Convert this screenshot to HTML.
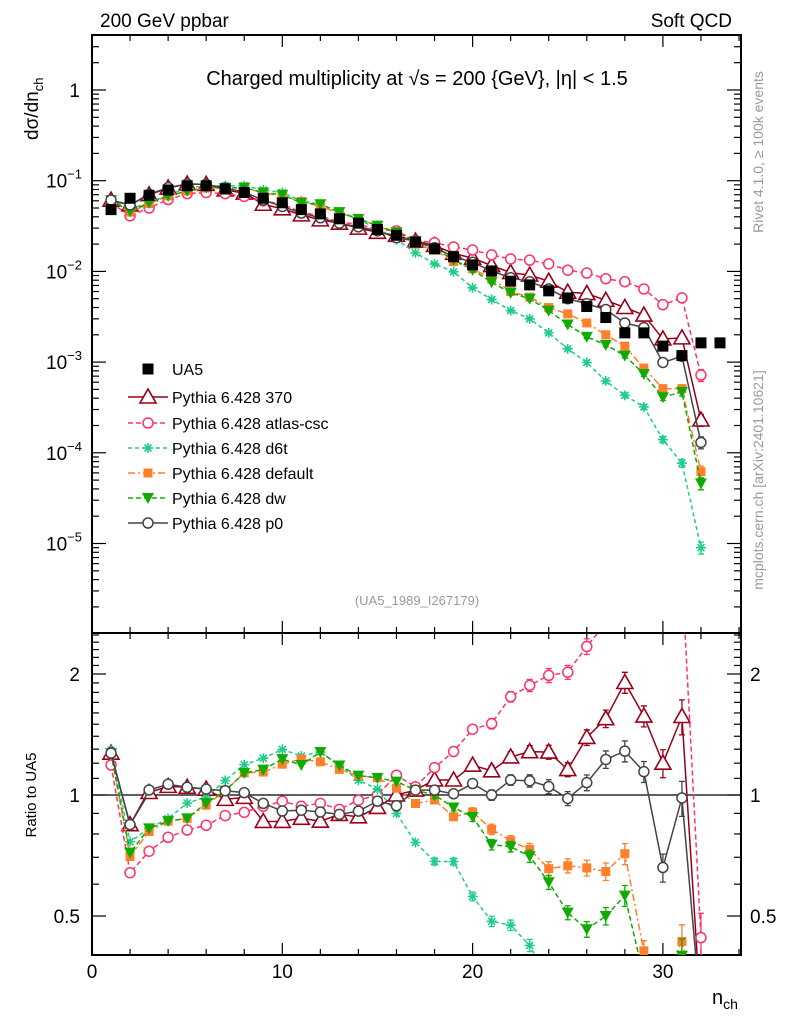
<!DOCTYPE html>
<html><head><meta charset="utf-8"><style>
html,body{margin:0;padding:0;background:#fff;overflow:hidden;width:786px;height:1024px;}
svg{display:block;font-family:"Liberation Sans",sans-serif;}
</style></head><body>
<svg id="chart" width="786" height="1024" viewBox="0 0 786 1024" xmlns="http://www.w3.org/2000/svg">
<defs>
<clipPath id="clipMain"><rect x="92" y="35" width="649" height="598"/></clipPath>
<clipPath id="clipRatio"><rect x="92" y="633" width="649" height="322"/></clipPath>
</defs>
<text x="100" y="27" font-size="19">200 GeV ppbar</text>
<text x="732" y="27" font-size="19" text-anchor="end">Soft QCD</text>
<text x="417" y="85" font-size="20" text-anchor="middle">Charged multiplicity at √s = 200 {GeV}, |η| &lt; 1.5</text>
<text x="417" y="605" font-size="13" fill="#999" text-anchor="middle">(UA5_1989_I267179)</text>
<text transform="translate(763,152) rotate(-90)" font-size="14" fill="#999" text-anchor="middle">Rivet 4.1.0, ≥ 100k events</text>
<text transform="translate(763,480) rotate(-90)" font-size="14" fill="#999" text-anchor="middle">mcplots.cern.ch [arXiv:2401.10621]</text>
<text transform="translate(38,140) rotate(-90)" font-size="19">dσ/dn<tspan font-size="13" dy="5">ch</tspan></text>
<text transform="translate(36,795) rotate(-90)" font-size="15" text-anchor="middle">Ratio to UA5</text>
<text x="712" y="1004" font-size="20">n<tspan font-size="14" dy="5">ch</tspan></text>
<g id="axes"></g>
<g id="series-main" clip-path="url(#clipMain)"></g>
<g id="series-ratio" clip-path="url(#clipRatio)"></g>
<g id="legend"></g>
</svg>
<script>
const nData = [1,2,3,4,5,6,7,8,9,10,11,12,13,14,15,16,17,18,19,20,21,22,23,24,25,26,27,28,29,30,31,32,33];
const ua5 = [0.048,0.064,0.069,0.079,0.088,0.088,0.081,0.074,0.064,0.057,0.048,0.043,0.038,0.034,0.029,0.025,0.021,0.0177,0.0145,0.0118,0.0101,0.0078,0.0071,0.0061,0.0051,0.0041,0.0031,0.0021,0.0021,0.0015,0.00118,0.00163,0.00163];
const nMC = [1,2,3,4,5,6,7,8,9,10,11,12,13,14,15,16,17,18,19,20,21,22,23,24,25,26,27,28,29,30,31,32];
const p370 = [0.061,0.054,0.070,0.083,0.092,0.091,0.079,0.073,0.055,0.049,0.042,0.037,0.034,0.030,0.027,0.025,0.0216,0.0193,0.0158,0.0140,0.0116,0.0097,0.0091,0.0078,0.0059,0.0057,0.0048,0.0040,0.0033,0.0018,0.00185,0.00023];
const pAtlas = [0.057,0.041,0.050,0.062,0.072,0.074,0.072,0.067,0.060,0.055,0.045,0.041,0.035,0.033,0.029,0.028,0.022,0.0207,0.0186,0.0172,0.0152,0.0137,0.0133,0.0121,0.0103,0.0096,0.0083,0.0077,0.0064,0.0043,0.0051,0.00072];
const pD6t = [0.062,0.049,0.057,0.069,0.084,0.087,0.088,0.088,0.079,0.074,0.060,0.055,0.045,0.037,0.030,0.0225,0.016,0.0121,0.0099,0.0066,0.0049,0.0037,0.0030,0.0021,0.0014,0.00099,0.00062,0.00043,0.00032,0.00014,0.000077,0.000009];
const pDefault = [0.061,0.045,0.056,0.068,0.077,0.083,0.083,0.084,0.073,0.068,0.059,0.052,0.044,0.038,0.032,0.026,0.020,0.0172,0.0128,0.0107,0.0083,0.0060,0.0052,0.0040,0.0034,0.0027,0.0020,0.0015,0.00086,0.00051,0.00051,0.000062];
const pDw = [0.061,0.046,0.057,0.068,0.077,0.084,0.083,0.084,0.074,0.070,0.057,0.055,0.045,0.038,0.032,0.027,0.0216,0.0177,0.0135,0.0104,0.0076,0.0058,0.0050,0.0037,0.0026,0.0019,0.00155,0.00118,0.00074,0.00041,0.00047,0.000046];
const pP0 = [0.061,0.054,0.071,0.084,0.092,0.091,0.083,0.075,0.061,0.052,0.044,0.039,0.034,0.031,0.028,0.0235,0.0216,0.0182,0.0146,0.0126,0.0101,0.0085,0.0077,0.0064,0.0050,0.0044,0.0038,0.0027,0.0024,0.00099,0.00116,0.00013];
const errRel = [0.01,0.01,0.01,0.01,0.01,0.01,0.01,0.01,0.01,0.01,0.01,0.01,0.01,0.01,0.01,0.012,0.015,0.02,0.02,0.025,0.03,0.03,0.035,0.04,0.04,0.045,0.05,0.06,0.06,0.08,0.1,0.15];
const xTicks = [0,10,20,30];
const ratioTicks = [0.5,1,2];
const ratioTickLabels = ["0.5","1","2"];
const mainDecades = [0,-1,-2,-3,-4,-5];

const SVGNS = "http://www.w3.org/2000/svg";
const X0=92, X1=741, MT=35, MB=633, RT=633, RB=955;
function clamp(v,a,b){ return Math.max(a,Math.min(b,v)); }
function xs(n){ return X0 + n*19.03; }
function ym(v){ return clamp(90 - 90.7*Math.log10(v), MT-50, MB+50); }
function yr(r){ return clamp(795 - 402*Math.log10(r), RT-60, RB+60); }
function mk(tag, attrs, parent){ const e=document.createElementNS(SVGNS,tag); for(const k in attrs) e.setAttribute(k,attrs[k]); parent.appendChild(e); return e; }

const axes=document.getElementById('axes');
let f1=mk('rect',{x:X0,y:MT,width:X1-X0,height:MB-MT,fill:'none',stroke:'#000','stroke-width':2},axes);


let f2=mk('rect',{x:X0,y:RT,width:X1-X0,height:RB-RT,fill:'none',stroke:'#000','stroke-width':2},axes);


let one=mk('line',{x1:X0,x2:X1,y1:yr(1),y2:yr(1),stroke:'#000','stroke-width':1.2},axes);


for(let v=0; v<=34; v+=2){
  const major = v%10===0; const L = major?12:6; const x=xs(v);
  for(const [yt,dir] of [[MT,1],[MB,-1],[RT,1],[RB,-1]]){
    const t=mk('line',{x1:x,x2:x,y1:yt,y2:yt+dir*L,stroke:'#000','stroke-width':1.2},axes);
    
    
  }
}
xTicks.forEach(v=>{
  const t=mk('text',{x:xs(v),y:978,'font-size':19,'text-anchor':'middle'},axes);
  t.textContent=String(v);
  
  
});
for(let d=-6; d<=0; d++){
  for(let m=1;m<=9;m++){
    const v=m*Math.pow(10,d); const y=90 - 90.7*Math.log10(v);
    if(y<MT||y>MB) continue;
    const L = m===1?14:7;
    for(const [xt,dir] of [[X0,1],[X1,-1]]){
      const t=mk('line',{x1:xt,x2:xt+dir*L,y1:y,y2:y,stroke:'#000','stroke-width':1.2},axes);
      
      
    }
  }
}
mainDecades.forEach(d=>{
  const y=ym(Math.pow(10,d));
  const t=mk('text',{x:80,y:y+7,'font-size':19,'text-anchor':'end'},axes);
  
  
  if(d===0){ t.textContent='1'; }
  else {
    const a=mk('tspan',{},t); a.textContent='10';
    const b=mk('tspan',{'font-size':13,dy:-9},t); b.textContent='−'+(-d);
    t.setAttribute('x',82);
  }
});
const rmin=[0.4,0.6,0.7,0.8,0.9,1.1,1.2,1.3,1.4,1.5,1.6,1.7,1.8,1.9,2.1,2.2,2.3,2.4,2.5];
rmin.concat(ratioTicks).forEach(r=>{
  const y=795 - 402*Math.log10(r); if(y<RT||y>RB) return;
  const L = ratioTicks.includes(r)?14:7;
  for(const [xt,dir] of [[X0,1],[X1,-1]]){
    const t=mk('line',{x1:xt,x2:xt+dir*L,y1:y,y2:y,stroke:'#000','stroke-width':1.2},axes);
    
    
  }
});
ratioTicks.forEach((r,i)=>{
  const y=yr(r);
  const a=mk('text',{x:80,y:y+7,'font-size':19,'text-anchor':'end'},axes);
  a.textContent=ratioTickLabels[i];
  
  
  const b=mk('text',{x:750,y:y+7,'font-size':19},axes);
  b.textContent=ratioTickLabels[i];
  
  
});

function marker(g, style, x, y){
  const c=style.color; let e;
  if(style.m==='sq'){ e=mk('rect',{x:x-5.5,y:y-5.5,width:11,height:11,fill:c},g); }
  else if(style.m==='sqs'){ e=mk('rect',{x:x-4.5,y:y-4.5,width:9,height:9,fill:c},g); }
  else if(style.m==='tri'){ e=mk('polygon',{points:`${x},${y-8} ${x-8},${y+6} ${x+8},${y+6}`,fill:'#fff',stroke:c,'stroke-width':1.6},g); }
  else if(style.m==='circ'){ e=mk('circle',{cx:x,cy:y,r:5,fill:'#fff',stroke:c,'stroke-width':1.5},g); }
  else if(style.m==='tdown'){ e=mk('polygon',{points:`${x-6},${y-5} ${x+6},${y-5} ${x},${y+6}`,fill:c},g); }
  else if(style.m==='star'){ e=mk('path',{d:`M${x-5},${y}H${x+5}M${x},${y-5}V${y+5}M${x-3.5},${y-3.5}L${x+3.5},${y+3.5}M${x-3.5},${y+3.5}L${x+3.5},${y-3.5}`,stroke:c,'stroke-width':1.6,fill:'none'},g); }
  
  
}

const series = [
  {key:'pythia-370', label:'Pythia 6.428 370', vals:p370, color:'#990018', dash:'', m:'tri'},
  {key:'pythia-atlas-csc', label:'Pythia 6.428 atlas-csc', vals:pAtlas, color:'#ff3366', dash:'5,3', m:'circ'},
  {key:'pythia-d6t', label:'Pythia 6.428 d6t', vals:pD6t, color:'#22cc88', dash:'4,3', m:'star'},
  {key:'pythia-default', label:'Pythia 6.428 default', vals:pDefault, color:'#ff7f2a', dash:'7,3,2,3', m:'sqs'},
  {key:'pythia-dw', label:'Pythia 6.428 dw', vals:pDw, color:'#11aa00', dash:'5,3', m:'tdown'},
  {key:'pythia-p0', label:'Pythia 6.428 p0', vals:pP0, color:'#444444', dash:'', m:'circ'}
];
const gM=document.getElementById('series-main'), gR=document.getElementById('series-ratio');
function ebar(g,x,y1,y2,c,name){
  const e=mk('path',{d:`M${x},${y1}V${y2}M${x-3},${y1}H${x+3}M${x-3},${y2}H${x+3}`,stroke:c,'stroke-width':1.3,fill:'none'},g);
  
  
}
series.forEach(s=>{
  const gm=mk('g',{},gM);
  
  
  const gr=mk('g',{},gR);
  
  
  const ptsM=[], ptsR=[];
  nMC.forEach((n,i)=>{
    const v=s.vals[i]; const r=v/ua5[i];
    ptsM.push(xs(n)+','+ym(v)); ptsR.push(xs(n)+','+yr(r));
  });
  const lm=mk('polyline',{points:ptsM.join(' '),fill:'none',stroke:s.color,'stroke-width':1.5,'stroke-dasharray':s.dash},gm);
  
  
  const lr=mk('polyline',{points:ptsR.join(' '),fill:'none',stroke:s.color,'stroke-width':1.5,'stroke-dasharray':s.dash},gr);
  
  
  nMC.forEach((n,i)=>{
    const v=s.vals[i]; const r=v/ua5[i]; const e=errRel[i];
    if(e>0.015){
      ebar(gm,xs(n),ym(v*(1+e)),ym(v*(1-e)),s.color,s.key+'-main-error');
      ebar(gr,xs(n),yr(r*(1+e)),yr(r*(1-e)),s.color,s.key+'-ratio-error');
    }
    marker(gm,s,xs(n),ym(v));
    marker(gr,s,xs(n),yr(r));
  });
});
const gu=mk('g',{},gM);


nData.forEach((n,i)=>{ marker(gu,{key:'ua5',m:'sq',color:'#000'},xs(n),ym(ua5[i])); });

const lg=document.getElementById('legend');
const rowY=[369,397,423,448,473,498,523];
const le0=mk('g',{},lg);


marker(le0,{key:'legend-ua5',m:'sq',color:'#000'},148,rowY[0]);
const t0=mk('text',{x:172,y:rowY[0]+6,'font-size':16},le0); t0.textContent='UA5';
series.forEach((s,i)=>{
  const le=mk('g',{},lg);
  
  
  const y=rowY[i+1];
  mk('line',{x1:128,x2:168,y1:y,y2:y,stroke:s.color,'stroke-width':1.5,'stroke-dasharray':s.dash},le);
  marker(le,s,148,y);
  const t=mk('text',{x:172,y:y+6,'font-size':16},le); t.textContent=s.label;
});
</script>
</body></html>
